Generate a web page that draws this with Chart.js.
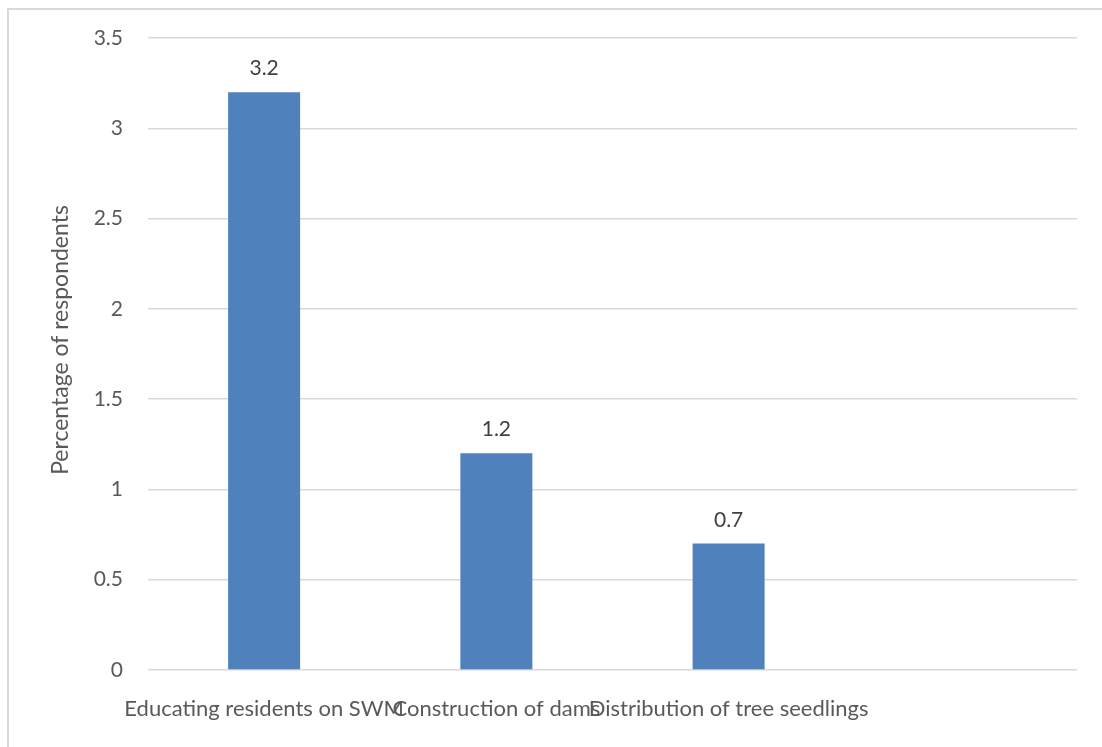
<!DOCTYPE html>
<html>
<head>
<meta charset="utf-8">
<script src="https://cdn.jsdelivr.net/npm/chart.js@4.4.1/dist/chart.umd.min.js"></script>
<style>
  html, body { margin: 0; padding: 0; background: #ffffff; }
  #wrap { position: relative; width: 1102px; height: 747px; overflow: hidden; }
  #frame { position: absolute; left: 7px; top: 8px; width: 1200px; height: 800px;
           border-left: 2px solid #d9d9d9; border-top: 2px solid #d9d9d9; box-sizing: border-box; }
  canvas { position: absolute; left: 0; top: 0; }
</style>
</head>
<body>
<div id="wrap">
  <div id="frame"></div>
  <canvas id="c" width="1102" height="747"></canvas>
</div>
<script>
const categories = ["Educating residents on SWM", "Construction of dams", "Distribution of tree seedlings", ""];
const values = [3.2, 1.2, 0.7, null];
const yTicks = [0, 0.5, 1, 1.5, 2, 2.5, 3, 3.5];
const yTitle = "Percentage of respondents";

const FONT = "Lato, 'Open Sans', sans-serif";
const TEXT = "#595959";

const dataLabels = {
  id: "dataLabels",
  afterDatasetsDraw(chart) {
    const ctx = chart.ctx;
    const meta = chart.getDatasetMeta(0);
    ctx.save();
    ctx.font = "21px " + FONT;
    ctx.fillStyle = "#404040";
    ctx.textAlign = "center";
    ctx.textBaseline = "alphabetic";
    meta.data.forEach((bar, i) => {
      const v = values[i];
      if (v === null || v === undefined) return;
      ctx.fillText(String(v), bar.x, bar.y - 17);
    });
    ctx.restore();
  }
};

const yTitlePlugin = {
  id: "yTitlePlugin",
  afterDraw(chart) {
    const ctx = chart.ctx;
    ctx.save();
    ctx.font = "23px " + FONT;
    ctx.fillStyle = TEXT;
    ctx.textAlign = "center";
    ctx.textBaseline = "middle";
    ctx.translate(61, 340);
    ctx.rotate(-Math.PI / 2);
    ctx.fillText(yTitle, 0, 0);
    ctx.restore();
  }
};

new Chart(document.getElementById("c"), {
  type: "bar",
  data: {
    labels: categories,
    datasets: [{
      data: values,
      backgroundColor: "#4F81BD",
      borderWidth: 0,
      categoryPercentage: 1,
      barPercentage: 0.31
    }]
  },
  options: {
    responsive: false,
    animation: false,
    layout: { padding: { left: 38, right: 25, top: 38, bottom: 0 } },
    plugins: { legend: { display: false }, tooltip: { enabled: false } },
    scales: {
      x: {
        grid: { display: false, drawTicks: false },
        border: { display: false },
        ticks: {
          autoSkip: false, maxRotation: 0, minRotation: 0,
          color: TEXT, font: { family: FONT, size: 22 }, padding: 26
        },
        afterFit(s) { s.height = 77; }
      },
      y: {
        min: 0, max: 3.5,
        afterBuildTicks(s) { s.ticks = yTicks.map(v => ({ value: v })); },
        grid: { color: "#d9d9d9", lineWidth: 1.5, drawTicks: false },
        border: { display: false },
        ticks: {
          color: TEXT, font: { family: FONT, size: 21 }, padding: 25,
          callback: v => String(v)
        },
        title: { display: false },
        afterFit(s) { s.width = 110; }
      }
    }
  },
  plugins: [dataLabels, yTitlePlugin]
});
</script>
</body>
</html>
